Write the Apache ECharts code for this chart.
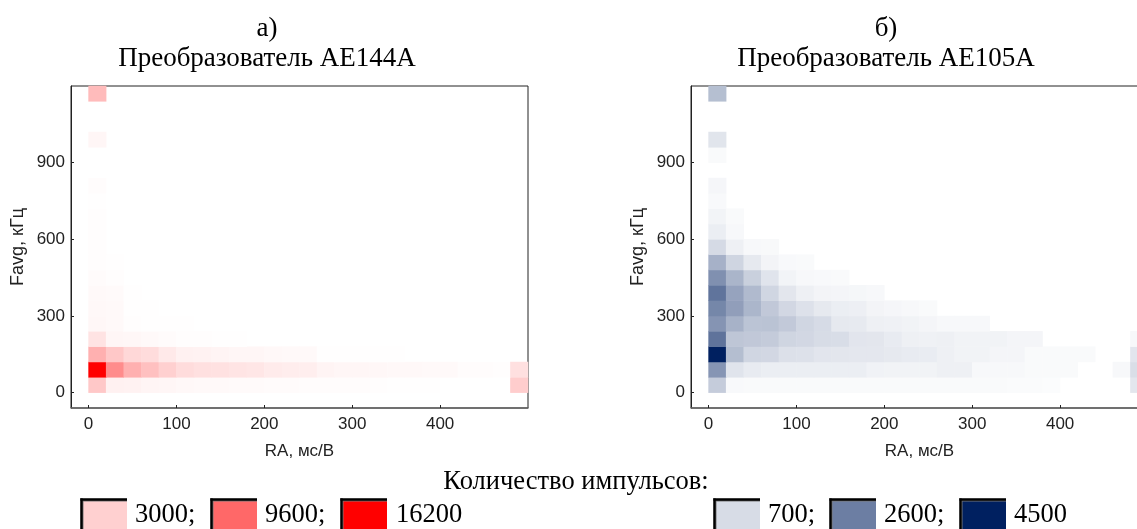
<!DOCTYPE html>
<html><head><meta charset="utf-8">
<style>html,body{margin:0;padding:0;background:#fff;overflow:hidden}#c{width:1137px;height:529px}</style>
<script src="https://cdn.jsdelivr.net/npm/echarts@6/dist/echarts.min.js"></script>
</head><body><div id="c"></div>
<script>
const raBands = [-20,0,20,40,60,80,100,120,140,160,180,200,220,240,260,280,300,320,340,360,380,400,420,440,460,480];
const favgBands = [-60,0,60,120,180,240,300,360,420,480,540,600,660,720,780,840,900,960,1020,1080,1140];
const xTicks = [0,100,200,300,400];
const yTicks = [0,300,600,900];

// Each row: pulse counts for RA cells 0-20, 20-40, ... ; row key = lower Favg edge
const red0    = [3500,900,800,650,550,450,400,350,300,300,250,250,200,200,170,170,130,90,70,50,30,30,0,0,3200];
const red60   = [16200,7300,5000,4000,3000,2200,2000,1900,1700,1600,1300,1150,1050,700,600,550,500,450,450,400,350,220,180,130,2000];
const red120  = [5000,3500,2500,2200,1400,900,800,700,600,550,450,400,350,70,70,70,70,70];
const red180  = [1800,600,500,350,250,150,120,80,60];
const red240  = [500,350,120,70,60,40];
const red300  = [450,350,80,40];
const red360  = [400,300,70];
const red420  = [250,150];
const red480  = [150,70];
const red540  = [100];
const red600  = [100];
const red660  = [150];
const red720  = [80];
const red780  = [220];
const red960  = [550];
const red1140 = [4300];
const redRows = [red0,red60,red120,red180,red240,red300,red360,red420,red480,red540,red600,red660,red720,red780,[],[],red960,[],[],red1140];

const blue0    = [1020,120,110,110,110,110,110,110,110,110,110,110,100,100,100,100,100,80,80,70,0,0,0,0,500];
const blue60   = [2130,540,400,350,350,350,350,350,350,260,250,250,250,300,300,150,150,150,100,100,100,0,0,150,670];
const blue120  = [4500,1320,830,800,620,600,520,500,480,480,450,400,380,300,250,250,200,200,100,100,100,100,0,0,520];
const blue180  = [2820,1150,1100,1050,850,800,700,680,520,500,400,300,280,300,250,250,250,200,200,0,0,0,0,0,150];
const blue240  = [2150,1560,1200,1220,1080,830,720,450,420,300,280,250,200,150,150,150];
const blue300  = [2430,1950,1480,1100,800,600,450,350,320,220,180,150,100];
const blue360  = [2800,1850,1400,830,500,300,220,200,170,150];
const blue420  = [2250,1500,950,550,230,150,120,100];
const blue480  = [1570,850,450,220,120,100];
const blue540  = [750,300,150,130];
const blue600  = [350,150];
const blue660  = [230,100];
const blue720  = [120];
const blue780  = [180];
const blue900  = [100];
const blue960  = [530];
const blue1140 = [1300];
const blueRows = [blue0,blue60,blue120,blue180,blue240,blue300,blue360,blue420,blue480,blue540,blue600,blue660,blue720,blue780,[],blue900,blue960,[],[],blue1140];

const legendRed = [3000,9600,16200];
const legendBlue = [700,2600,4500];
const legendTitle = 'Количество импульсов:';
const titleA = ['а)','Преобразователь AE144A'];
const titleB = ['б)','Преобразователь AE105A'];
const xName = 'RA, мс/В';
const yName = 'Favg, кГц';

function cells(rows){
  const out=[];
  rows.forEach((r,j)=>r.forEach((v,i)=>{ if(v>0) out.push([i+1,j+1,v]); }));
  return out;
}
const serif='"Liberation Serif","Times New Roman",serif';
const sans='"Liberation Sans",Arial,sans-serif';
const grids=[{left:71,top:86,width:457,height:322},{left:691,top:86,width:457,height:322}];

function valX(g){return {type:'value',gridIndex:g,min:-20,max:500,name:xName,nameLocation:'middle',nameGap:35,
  nameTextStyle:{fontFamily:sans,fontSize:17,color:'#222'},
  axisLine:{onZero:false,lineStyle:{color:'#666',width:1.5}},
  axisTick:{show:true,inside:true,length:3,customValues:xTicks,lineStyle:{color:'#222'}},
  axisLabel:{customValues:xTicks,fontFamily:sans,fontSize:17,color:'#222',margin:8},splitLine:{show:false}};}
function valY(g){return {type:'value',gridIndex:g,min:-60,max:1200,name:yName,nameLocation:'middle',nameGap:44,
  nameTextStyle:{fontFamily:sans,fontSize:18,color:'#222'},
  axisLine:{onZero:false,lineStyle:{color:'#222',width:1}},
  axisTick:{show:true,inside:true,length:3,customValues:yTicks,lineStyle:{color:'#222'}},
  axisLabel:{customValues:yTicks,fontFamily:sans,fontSize:17,color:'#222',margin:6},splitLine:{show:false}};}
function catX(g){return {type:'category',gridIndex:g,data:raBands.map(String),show:false};}
function catY(g){return {type:'category',gridIndex:g,data:favgBands.map(String),show:false};}

function swatch(x,col){
  return [
    {type:'rect',shape:{x:x,y:498,width:47,height:31},style:{fill:col},silent:true},
    {type:'rect',shape:{x:x,y:498,width:47,height:3.5},style:{fill:'#777'},silent:true},
    {type:'rect',shape:{x:x,y:498,width:3.5,height:31},style:{fill:'#777'},silent:true},
    {type:'rect',shape:{x:x+0.5,y:498.5,width:46.5,height:2.2},style:{fill:'#000'},silent:true},
    {type:'rect',shape:{x:x+0.5,y:498.5,width:2.2,height:30.5},style:{fill:'#000'},silent:true}
  ];
}
function label(x,y,t,align){
  return {type:'text',x:x,y:y,silent:true,style:{text:t,fill:'#000',font:'26.5px '+serif,textAlign:align||'left',textVerticalAlign:'middle'}};
}
function mix(v,max,to){
  const t=v/max; const c=[0,1,2].map(i=>Math.round(255+(to[i]-255)*t));
  return 'rgb('+c.join(',')+')';
}
const redTo=[255,0,0], blueTo=[0,32,96];
const gfx=[
  label(576,482,legendTitle,'center'),
  ...swatch(80,mix(legendRed[0],16200,redTo)),label(135,515,legendRed[0]+';'),
  ...swatch(210,mix(legendRed[1],16200,redTo)),label(265,515,legendRed[1]+';'),
  ...swatch(340,mix(legendRed[2],16200,redTo)),label(396,515,String(legendRed[2])),
  ...swatch(713,mix(legendBlue[0],4500,blueTo)),label(768,515,legendBlue[0]+';'),
  ...swatch(829,mix(legendBlue[1],4500,blueTo)),label(884,515,legendBlue[1]+';'),
  ...swatch(959,mix(legendBlue[2],4500,blueTo)),label(1014,515,String(legendBlue[2]))
];
function ttl(t,x,y){return {text:t,left:x,top:y,textAlign:'center',textStyle:{fontFamily:serif,fontSize:27,fontWeight:'normal',color:'#000'}};}

const chart=echarts.init(document.getElementById('c'),null,{renderer:'canvas'});
chart.setOption({
  animation:false,backgroundColor:'#fff',
  title:[ttl(titleA[0],262,10),ttl(titleA[1],262,40),ttl(titleB[0],881,10),ttl(titleB[1],881,40)],
  grid:grids.map(g=>Object.assign({show:true,borderColor:'#222',borderWidth:1,backgroundColor:'#fff',outerBoundsMode:'none'},g)),
  xAxis:[valX(0),valX(1),catX(0),catX(1)],
  yAxis:[valY(0),valY(1),catY(0),catY(1)],
  visualMap:[
    {show:false,type:'continuous',seriesIndex:0,min:0,max:16200,inRange:{color:['#ffffff','#ff0000']}},
    {show:false,type:'continuous',seriesIndex:1,min:0,max:4500,inRange:{color:['#ffffff','#002060']}}
  ],
  series:[
    {type:'heatmap',xAxisIndex:2,yAxisIndex:2,data:cells(redRows),silent:true,progressive:0},
    {type:'heatmap',xAxisIndex:3,yAxisIndex:3,data:cells(blueRows),silent:true,progressive:0}
  ],
  graphic:gfx
});
</script></body></html>
